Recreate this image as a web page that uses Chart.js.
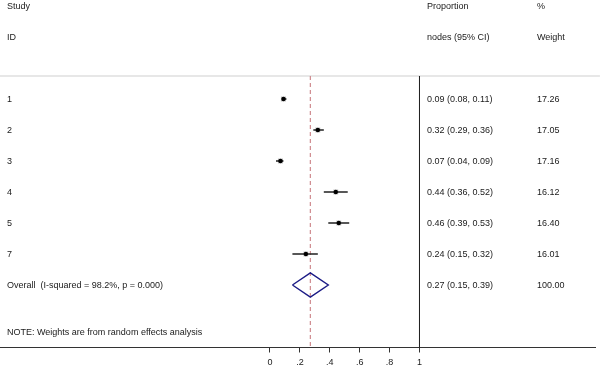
<!DOCTYPE html>
<html>
<head>
<meta charset="utf-8">
<script src="https://cdn.jsdelivr.net/npm/chart.js@4"></script>
<style>
html,body{margin:0;padding:0;background:#fff;}
#wrap{width:600px;height:367px;position:relative;}
</style>
</head>
<body>
<div id="wrap"><canvas id="c" width="600" height="367"></canvas></div>
<script>
// ---- data ----
const studyIds = ['1', '2', '3', '4', '5', '7'];
const estimates = [0.09, 0.32, 0.07, 0.44, 0.46, 0.24];
const lowerCI = [0.08, 0.29, 0.04, 0.36, 0.39, 0.15];
const upperCI = [0.11, 0.36, 0.09, 0.52, 0.53, 0.32];
const weights = [17.26, 17.05, 17.16, 16.12, 16.40, 16.01];
const overallLabel = 'Overall  (I-squared = 98.2%, p = 0.000)';
const overallEst = 0.27;
const overallLo = 0.15;
const overallHi = 0.39;
const overallWeight = 100.00;
const tickValues = [0, 0.2, 0.4, 0.6, 0.8, 1];
const tickLabels = ['0', '.2', '.4', '.6', '.8', '1'];
const headerLeft = ['Study', 'ID'];
const headerMid = ['Proportion', 'nodes (95% CI)'];
const headerRight = ['%', 'Weight'];
const noteText = 'NOTE: Weights are from random effects analysis';

// ---- layout (row units: study i sits at row i) ----
const overallRow = studyIds.length;
const headerRows = [-3, -2];
const sepRow = -0.742;
const noteRow = 7.506;
const yTop = -3.194, yBottom = 8.016;
const xMin = -1.806, xMax = 2.174, xFar = 2.207;
const FONT = '"Liberation Sans", Arial, sans-serif';
const TXT = '#1a1a1a';

const datasets = [];
// separator line under header
datasets.push({type:'line', data:[{x:xMin,y:sepRow},{x:xFar,y:sepRow}], borderColor:'#cfcfcf', borderWidth:1, pointRadius:0, clip:false, order:5});
// null line at 1
datasets.push({type:'line', data:[{x:1,y:sepRow},{x:1,y:yBottom}], borderColor:'#222', borderWidth:1, pointRadius:0, order:4});
// overall effect dashed line
datasets.push({type:'line', data:[{x:overallEst,y:sepRow},{x:overallEst,y:yBottom}], borderColor:'#cf8a8e', borderWidth:1.2, borderDash:[4,3], pointRadius:0, order:4});
// weight boxes
datasets.push({type:'scatter', data:estimates.map((e,i)=>({x:e,y:i})), pointStyle:'rect', pointRadius:weights.map(w=>3.6*Math.sqrt(w/17.26)), backgroundColor:'#c4c4c4', borderWidth:0, order:3});
// CI lines
estimates.forEach((e,i)=>{
  datasets.push({type:'line', data:[{x:lowerCI[i],y:i},{x:upperCI[i],y:i}], borderColor:'#1f1f1f', borderWidth:1.6, pointRadius:0, order:2});
});
// point estimates
datasets.push({type:'scatter', data:estimates.map((e,i)=>({x:e,y:i})), pointStyle:'circle', pointRadius:2.2, backgroundColor:'#000', borderWidth:0, order:1});
// overall diamond
const dh = 0.39;
datasets.push({type:'line', data:[
  {x:overallLo,y:overallRow},{x:overallEst,y:overallRow-dh},{x:overallHi,y:overallRow},{x:overallEst,y:overallRow+dh},{x:overallLo,y:overallRow}
], borderColor:'#1c1c86', borderWidth:1.4, pointRadius:0, tension:0, order:1});

const textPlugin = {
  id:'forestText',
  afterDatasetsDraw(chart){
    const ctx = chart.ctx, y = chart.scales.y;
    const ty = r => y.getPixelForValue(r) + 1;
    ctx.save();
    ctx.fillStyle = TXT;
    ctx.font = '9px ' + FONT;
    ctx.textBaseline = 'middle';
    ctx.textAlign = 'left';
    const colL = 7, colM = 427, colR = 537;
    headerRows.forEach((r,k)=>{
      const py = ty(r);
      ctx.fillText(headerLeft[k], colL, py);
      ctx.fillText(headerMid[k], colM, py);
      ctx.fillText(headerRight[k], colR, py);
    });
    studyIds.forEach((s,i)=>{
      const py = ty(i);
      ctx.fillText(s, colL, py);
      ctx.fillText(estimates[i].toFixed(2)+' ('+lowerCI[i].toFixed(2)+', '+upperCI[i].toFixed(2)+')', colM, py);
      ctx.fillText(weights[i].toFixed(2), colR, py);
    });
    const po = ty(overallRow);
    ctx.fillText(overallLabel, colL, po);
    ctx.fillText(overallEst.toFixed(2)+' ('+overallLo.toFixed(2)+', '+overallHi.toFixed(2)+')', colM, po);
    ctx.fillText(overallWeight.toFixed(2), colR, po);
    ctx.fillText(noteText, colL, ty(noteRow));
    ctx.restore();
  }
};

new Chart(document.getElementById('c'), {
  type:'scatter',
  data:{datasets},
  options:{
    responsive:false,
    animation:false,
    devicePixelRatio:1,
    layout:{autoPadding:false, padding:{left:0,right:5,top:0,bottom:0}},
    plugins:{legend:{display:false}, tooltip:{enabled:false}},
    scales:{
      x:{
        type:'linear', min:xMin, max:xMax,
        afterBuildTicks(scale){ scale.ticks = tickValues.map(v=>({value:v})); },
        afterFit(scale){ scale.height = 19.5; scale.paddingLeft = 0; scale.paddingRight = 0; },
        ticks:{
          autoSkip:false, maxRotation:0, padding:4.5,
          color:TXT, font:{family:FONT, size:9, lineHeight:1.2},
          callback(v){ const k = tickValues.indexOf(v); return k>=0 ? tickLabels[k] : ''; }
        },
        grid:{display:true, drawOnChartArea:false, drawTicks:true, tickLength:5, color:'#333', lineWidth:1},
        border:{display:true, color:'#333', width:1}
      },
      y:{
        type:'linear', reverse:true, min:yTop, max:yBottom, display:false
      }
    }
  },
  plugins:[textPlugin]
});
</script>
</body>
</html>
